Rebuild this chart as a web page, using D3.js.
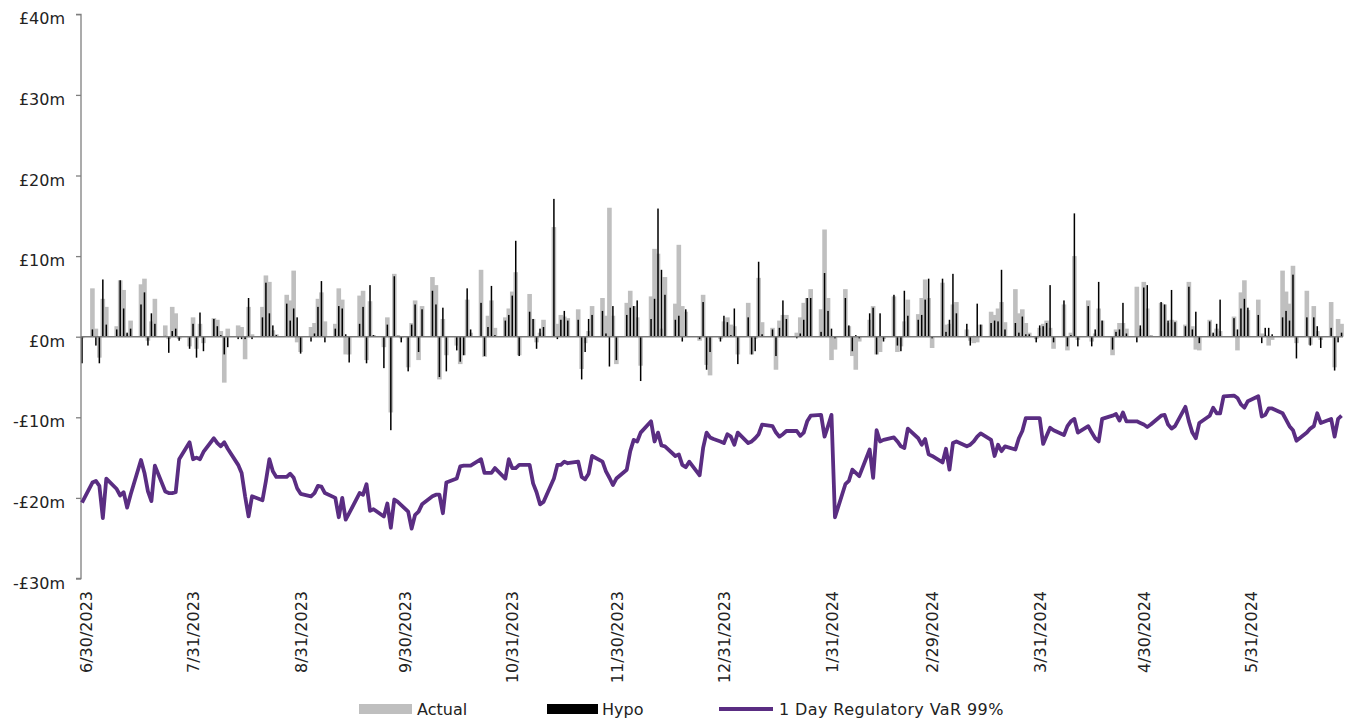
<!DOCTYPE html>
<html><head><meta charset="utf-8">
<script src="https://cdn.jsdelivr.net/npm/d3@7"></script>
<style>html,body{margin:0;padding:0;background:#fff}svg{display:block}text{font-family:"DejaVu Sans",sans-serif;fill:#222}</style>
</head><body><svg id="c" width="1352" height="722"></svg>
<script>
// ---- categories (business days, plus three quarter-end reporting dates) ----
const START_DATE = "2023-06-30";
const END_DATE = "2024-06-27";
const EXTRA_DATES = ["2023-09-30", "2023-12-31", "2024-03-31"];
const TICK_DATES = ["2023-06-30","2023-07-31","2023-08-31","2023-09-30","2023-10-31","2023-11-30","2023-12-31","2024-01-31","2024-02-29","2024-03-31","2024-04-30","2024-05-31"];
const Y_TICKS = [-30,-20,-10,0,10,20,30,40];
const SERIES_NAMES = ["Actual","Hypo","1 Day Regulatory VaR 99%"];

// ---- values in £m, one per reporting date (grouped by week) ----
const actual = [
-0.2,
6.0,1.0,-2.6,4.7,3.7,
1.3,7.0,5.8,0.3,2.0,
6.5,7.2,-0.5,1.9,4.7,
1.4,-0.3,3.7,2.9,-0.3,
-1.2,2.4,-1.5,1.6,-0.8,
2.3,2.1,0.7,-5.7,1.0,
1.4,1.2,-2.8,3.7,0.3,
3.7,7.6,6.8,0.8,0.3,
5.2,4.5,8.2,-0.7,-1.9,
1.2,1.7,4.7,5.5,1.9,
1.6,6.0,4.6,-2.2,-2.2,
5.1,5.7,-2.9,4.4,0.2,
-1.3,2.4,-9.4,7.8,0.2,-0.2,
-3.8,1.7,4.5,-2.9,3.8,
7.4,6.4,-5.3,2.2,-2.3,
-1.1,-3.4,-2.3,4.6,0.5,
8.3,-2.5,2.6,4.5,1.1,
2.4,3.5,5.6,8.0,-2.3,
5.3,2.2,-0.7,0.5,2.1,
13.6,1.6,2.7,2.5,2.3,
3.4,-4.0,-0.8,0.7,3.8,
4.8,2.6,16.0,2.6,-3.4,
4.2,5.7,3.8,2.4,-3.6,
5.0,10.9,10.3,1.0,7.4,
4.1,11.4,3.8,3.1,0,
-0.5,5.2,-3.5,-4.8,0,-0.3,
1.9,2.4,1.5,1.3,-2.2,
4.2,-2.2,-0.3,7.3,1.8,
1.1,-4.1,2.0,2.7,2.7,
0.5,2.4,4.2,4.8,5.9,
3.4,13.3,4.8,-2.9,-1.6,
5.9,1.3,-2.4,-4.1,-0.6,
2.1,3.8,-2.2,-1.9,-0.3,
5.0,-1.9,-1.2,1.9,4.6,
2.8,4.8,7.1,4.8,-1.4,
6.7,1.5,1.6,4.0,4.3,
0.9,-0.5,-0.8,-0.7,1.5,
3.1,2.7,3.5,4.3,1.8,
5.9,2.9,3.4,1.7,0.5,-0.3,
1.1,1.6,2.0,1.1,-1.5,
4.0,-1.7,0.5,10.0,-0.4,
4.5,-0.6,0.4,3.5,2.0,
-2.3,0.9,1.7,1.7,1.0,
6.2,1.0,6.8,3.5,0.2,
4.2,4.0,1.7,2.1,2.0,
1.5,6.8,1.3,-1.6,-1.7,
2.1,0.3,1.0,0.7,0,
2.5,-1.7,5.5,7.0,3.3,
4.6,0.4,0.2,-1.1,-0.4,
8.2,5.6,4.1,8.8,-0.8,
5.7,-1.0,3.8,0.7,-0.4,
4.3,-3.8,2.2,1.6
];
const hypo = [
-3.3,
0.9,-1.1,-3.3,7.1,1.5,
0.9,7.0,3.5,0.5,1.0,
4.0,5.5,-1.1,2.9,1.6,
0.1,-2.0,0.7,1.0,-0.5,
-1.5,1.6,-2.6,3.0,-1.8,
2.2,1.3,0.2,-2.2,-1.3,
-0.3,-0.3,-0.3,4.8,-0.3,
2.4,6.7,2.9,1.4,0.2,
4.1,2.0,3.5,2.4,-2.1,
-0.6,0.4,3.7,6.9,-0.7,
1.0,3.8,3.5,0.3,-3.2,
1.6,3.7,-3.3,6.4,0.2,
-3.9,1.5,-11.6,7.5,0.1,-0.7,
-4.3,1.5,4.0,-1.9,3.4,
5.7,4.0,-5.0,3.6,-4.3,
-1.7,-3.1,-2.3,6.0,0.9,
4.2,-2.4,1.2,6.3,0.2,
2.0,2.7,5.1,11.9,-2.4,
3.1,2.2,-1.5,1.0,1.2,
17.1,-0.3,2.1,3.2,2.0,
2.1,-5.3,-1.9,2.2,2.7,
3.2,0.4,-3.7,3.8,-2.9,
2.7,3.6,3.8,4.5,-5.5,
2.2,4.7,15.9,8.3,5.2,
2.1,2.6,-0.6,3.4,0,
-0.3,4.3,-4.1,-1.9,0,-0.6,
2.6,1.8,0.2,3.5,-3.4,
2.4,-2.2,-1.8,9.3,0.3,
0.9,-2.4,1.1,4.5,2.2,
-0.2,0.4,2.1,4.8,4.8,
0.6,7.9,3.2,1.0,-0.2,
4.8,1.4,-1.8,0.2,-0.2,
2.9,3.6,-2.2,2.9,-0.6,
5.2,-1.1,-1.8,5.7,2.6,
2.1,2.7,4.6,7.2,-0.2,
7.2,0.6,2.1,7.8,2.9,
1.6,-1.1,0.1,4.1,1.5,
1.7,2.0,1.9,8.3,0.9,
1.7,0.5,2.5,0.3,0.3,-0.7,
1.4,1.3,1.7,6.4,-0.7,
4.5,-1.2,0.2,15.3,-1.2,
3.8,-1.2,0.9,6.8,2.0,
-1.6,0.6,0.9,4.2,0.4,
-0.7,1.4,6.1,6.4,0.1,
4.3,4.0,2.0,5.8,1.8,
1.3,6.2,0.9,3.1,-0.8,
1.9,0.5,1.6,4.6,0,
2.3,0.9,3.5,4.7,3.6,
2.7,-0.8,1.1,1.1,0.3,
2.4,3.2,2.0,7.7,-2.7,
2.4,-1.1,2.4,1.3,-1.4,
1.1,-4.2,-0.7,0.5
];
const var99 = [
-20.6,
-18.1,-17.9,-18.5,-22.5,-17.6,
-18.9,-19.7,-19.3,-21.2,-19.6,
-15.3,-16.9,-19.2,-20.4,-16.0,
-19.2,-19.4,-19.4,-19.3,-15.2,
-13.1,-15.2,-15.0,-15.2,-14.3,
-12.6,-13.2,-13.6,-13.1,-13.9,
-15.9,-16.9,-19.8,-22.3,-19.8,
-20.3,-17.9,-15.2,-16.7,-17.4,
-17.4,-17.0,-17.5,-18.8,-19.5,
-19.8,-19.4,-18.5,-18.6,-19.4,
-20.0,-22.4,-20.0,-22.7,-21.9,
-19.4,-19.6,-18.3,-21.6,-21.4,
-22.3,-20.7,-23.7,-20.2,-20.5,-20.9,
-21.7,-23.8,-22.1,-21.7,-20.8,
-19.8,-19.6,-19.6,-21.9,-18.1,
-17.6,-16.1,-16.0,-16.0,-16.0,
-15.2,-16.9,-16.9,-16.9,-16.3,
-17.6,-15.2,-16.3,-16.3,-15.9,
-15.9,-18.2,-19.3,-20.8,-20.5,
-17.6,-15.9,-15.9,-15.5,-15.7,
-15.5,-17.4,-17.7,-17.0,-14.8,
-15.5,-16.7,-17.5,-18.4,-17.6,
-16.5,-14.2,-12.8,-13.0,-11.9,
-10.5,-13.0,-11.9,-13.5,-13.6,
-14.8,-14.6,-15.9,-16.2,-15.5,
-17.2,-13.8,-11.9,-12.5,-12.7,-13.0,
-13.2,-12.1,-12.4,-13.4,-11.9,
-13.2,-13.0,-12.6,-12.1,-10.9,
-11.1,-11.9,-12.4,-12.1,-11.7,
-11.7,-12.3,-11.9,-10.5,-9.8,
-9.7,-12.4,-11.1,-9.7,-22.4,
-18.3,-17.9,-16.5,-16.9,-17.3,
-14.0,-17.5,-11.6,-13.0,-12.8,
-12.5,-13.0,-13.6,-13.8,-11.4,
-12.6,-13.4,-12.7,-14.6,-14.8,
-15.6,-13.9,-16.5,-13.2,-13.0,
-13.6,-13.4,-13.0,-12.4,-12.0,
-12.8,-14.8,-13.4,-14.2,-13.6,
-14.0,-12.6,-11.7,-10.1,-10.1,-10.1,
-10.1,-13.3,-12.3,-11.3,-11.6,
-12.2,-11.1,-10.5,-10.2,-11.9,
-11.1,-11.9,-12.6,-13.0,-10.2,
-9.8,-9.6,-10.4,-9.4,-10.5,
-10.5,-10.7,-10.9,-11.2,-10.9,
-9.8,-9.7,-10.9,-11.4,-11.1,
-8.7,-10.5,-11.9,-12.6,-10.7,
-9.8,-8.8,-9.5,-9.5,-7.4,
-7.3,-7.6,-8.4,-8.8,-8.0,
-7.4,-9.9,-9.7,-8.9,-8.9,
-9.5,-10.3,-11.1,-11.6,-12.9,
-11.9,-11.4,-11.1,-9.5,-10.7,
-10.2,-12.4,-10.2,-9.8
];

// ---- build category list ----
const parse = d3.utcParse("%Y-%m-%d");
const startD = parse(START_DATE), endD = parse(END_DATE);
let dates = d3.utcDay.range(startD, d3.utcDay.offset(endD, 1)).filter(d => d.getUTCDay() !== 0 && d.getUTCDay() !== 6);
EXTRA_DATES.forEach(s => dates.push(parse(s)));
dates.sort((a, b) => a - b);
if (dates.length !== actual.length || dates.length !== hypo.length || dates.length !== var99.length) {
  throw new Error("length mismatch " + dates.length + " " + actual.length + " " + hypo.length + " " + var99.length);
}
const rows = dates.map((d, i) => ({date: d, actual: actual[i], hypo: hypo[i], v: var99[i]}));

// ---- scales ----
const svg = d3.select("#c");
const x = d3.scaleUtc()
  .domain([d3.utcHour.offset(startD, -7), d3.utcHour.offset(endD, 10)])
  .range([81, 1343]);
const y = d3.scaleLinear().domain([-30, 40]).range([578.5, 14.3]);

// ---- bars ----
svg.append("g").selectAll("rect").data(rows).join("rect")
  .attr("x", d => x(d.date) - 2.3).attr("width", 4.6)
  .attr("y", d => y(Math.max(0, d.actual))).attr("height", d => Math.abs(y(d.actual) - y(0)))
  .attr("fill", "#bfbfbf");
svg.append("g").selectAll("rect").data(rows).join("rect")
  .attr("x", d => x(d.date) - 0.75).attr("width", 1.5)
  .attr("y", d => y(Math.max(0, d.hypo))).attr("height", d => Math.abs(y(d.hypo) - y(0)))
  .attr("fill", "#000");

// ---- y axis ----
const yAxis = d3.axisLeft(y).tickValues(Y_TICKS).tickSize(5).tickPadding(0)
  .tickFormat(v => (v < 0 ? "-£" + Math.abs(v) : "£" + v) + "m");
const ya = svg.append("g").attr("transform", "translate(81,0)").call(yAxis);
ya.select(".domain").attr("stroke", "#7f7f7f").attr("stroke-width", 1.3).attr("d", `M-5,${y(40)}H0V${y(-30)}H-5`);
ya.selectAll(".tick line").attr("stroke", "#7f7f7f").attr("stroke-width", 1.3);
ya.selectAll(".tick text").attr("x", -16).attr("dy", "0.35em").attr("transform", "translate(0,4)")
  .style("font-family", '"DejaVu Sans", sans-serif').style("font-size", "16px").attr("fill", "#222");

// ---- zero line ----
svg.append("line").attr("x1", 81).attr("x2", 1343).attr("y1", y(0)).attr("y2", y(0))
  .attr("stroke", "#7a7a7a").attr("stroke-width", 1.5);

// ---- x labels ----
const fmt = d => (d.getUTCMonth() + 1) + "/" + d.getUTCDate() + "/" + d.getUTCFullYear();
svg.append("g").selectAll("text").data(TICK_DATES.map(parse)).join("text")
  .attr("transform", d => `translate(${x(d) + 4},591) rotate(-90)`)
  .attr("text-anchor", "end").attr("dy", "0.35em")
  .style("font-size", "16px").text(fmt);

// ---- VaR line ----
svg.append("path").datum(rows)
  .attr("d", d3.line().x(d => x(d.date)).y(d => y(d.v)))
  .attr("fill", "none").attr("stroke", "#5a2d82").attr("stroke-width", 3.8).attr("stroke-linejoin", "round");

// ---- legend ----
const lg = svg.append("g");
lg.append("rect").attr("x", 359).attr("y", 704).attr("width", 53).attr("height", 10).attr("fill", "#bfbfbf");
lg.append("text").attr("x", 417).attr("y", 709).attr("dy", "0.35em").style("font-size", "16px").text(SERIES_NAMES[0]);
lg.append("rect").attr("x", 547).attr("y", 704).attr("width", 51).attr("height", 10).attr("fill", "#000");
lg.append("text").attr("x", 602).attr("y", 709).attr("dy", "0.35em").style("font-size", "16px").text(SERIES_NAMES[1]);
lg.append("line").attr("x1", 719).attr("x2", 773).attr("y1", 709).attr("y2", 709).attr("stroke", "#5a2d82").attr("stroke-width", 3.8);
lg.append("text").attr("x", 779).attr("y", 709).attr("dy", "0.35em").style("font-size", "16px").style("letter-spacing", "0.4px").text(SERIES_NAMES[2]);
</script></body></html>
